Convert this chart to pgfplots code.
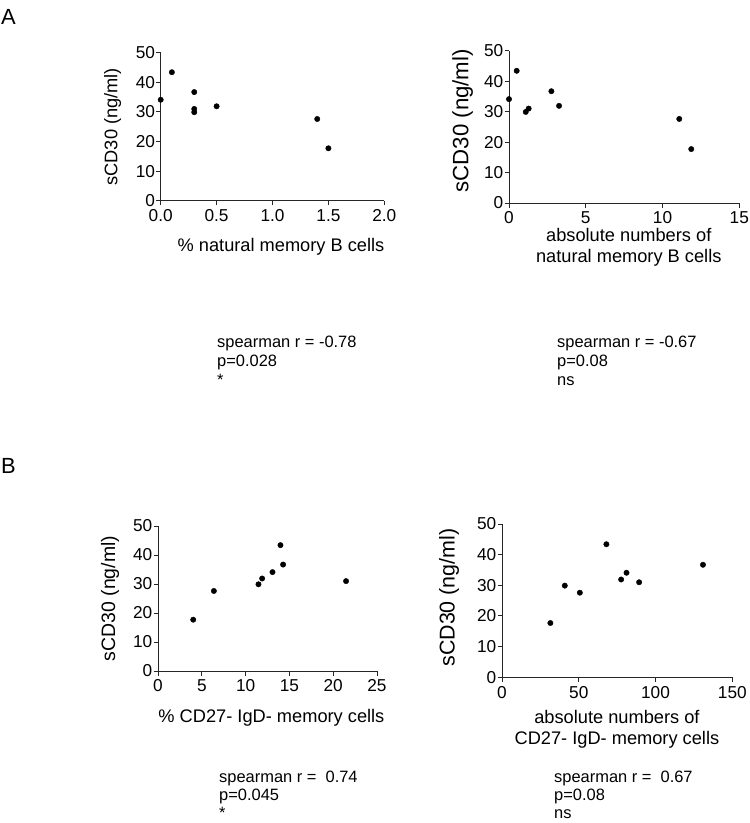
\documentclass[border=0pt]{standalone}
\usepackage{pgfplots}
\pgfplotsset{compat=1.18}
\usepackage{fontspec}
\setmainfont{Liberation Sans}
\newcommand{\fs}[1]{\fontsize{#1}{#1}\selectfont}
\pgfplotsset{
  panel/.style={
    scale only axis,
    anchor=south west,
    axis lines=left,
    axis line style={-, black!85, line width=1bp},
    tick style={black!85, line width=1bp},
    tick align=outside,
    major tick length=4.5bp,
    ymin=0, ymax=50, ytick={0,10,...,50},
    ticklabel style={font=\fs{17.3}},
    /pgf/number format/assume math mode=true,
    yticklabel style={inner xsep=1bp},
    xticklabel style={inner ysep=4bp},
    clip=false,
  },
  dots/.style={only marks, mark=*, mark size=2.7bp, black},
}
\begin{document}
\begin{tikzpicture}[x=1bp,y=1bp]
\path[use as bounding box] (0bp,0bp) rectangle (750bp,-823bp);

% ---------- A1 ----------
\begin{axis}[panel, at={(160.7bp,-200.7bp)}, width=223.6bp, height=148bp,
  xmin=0, xmax=2, xtick={0,0.5,1,1.5,2},
  xticklabel style={/pgf/number format/.cd, fixed, fixed zerofill, precision=1},
  ylabel={sCD30 (ng/ml)},
  ylabel style={font=\fs{18.3}, at={(axis description cs:-0.215,0.5)}, anchor=center},
  xlabel={\% natural memory B cells},
  xlabel style={font=\fs{18.3}, at={(axis description cs:0.538,-0.345)}, anchor=base},
]
\addplot[dots] coordinates {(0,34.1) (0.1,43.4) (0.3,36.7) (0.3,31.0) (0.3,29.9) (0.5,31.9) (1.4,27.6) (1.5,17.7)};
\end{axis}

% ---------- A2 ----------
\begin{axis}[panel, at={(509bp,-203bp)}, width=230.3bp, height=152.3bp,
  xmin=0, xmax=15, xtick={0,5,10,15},
  ylabel={sCD30 (ng/ml)},
  ylabel style={font=\fs{22.3}, at={(axis description cs:-0.201,0.54)}, anchor=center},
  xlabel={absolute numbers of\\natural memory B cells},
  xlabel style={font=\fontsize{18.3}{21.7}\selectfont, align=center, at={(axis description cs:0.52,-0.162)}, anchor=north, inner sep=0pt},
]
\addplot[dots] coordinates {(0,34.1) (0.5,43.4) (1.09,29.9) (1.28,31.0) (2.76,36.7) (3.26,31.9) (11.09,27.6) (11.87,17.7)};
\end{axis}

% ---------- B1 ----------
\begin{axis}[panel, at={(158bp,-671bp)}, width=219bp, height=145bp,
  xmin=0, xmax=25, xtick={0,5,...,25},
  ylabel={sCD30 (ng/ml)},
  ylabel style={font=\fs{19.5}, at={(axis description cs:-0.219,0.5)}, anchor=center},
  xlabel={\% CD27- IgD- memory cells},
  xlabel style={font=\fs{18.3}, at={(axis description cs:0.518,-0.357)}, anchor=base},
]
\addplot[dots] coordinates {(4.02,17.7) (6.38,27.6) (11.47,29.9) (11.89,31.9) (13.07,34.1) (13.98,43.4) (14.28,36.7) (21.47,31.0)};
\end{axis}

% ---------- B2 ----------
\begin{axis}[panel, at={(502bp,-677.3bp)}, width=230.3bp, height=153.3bp,
  xmin=0, xmax=150, xtick={0,50,100,150},
  ylabel={sCD30 (ng/ml)},
  ylabel style={font=\fs{21.5}, at={(axis description cs:-0.230,0.52)}, anchor=center},
  xlabel={absolute numbers of\\CD27- IgD- memory cells},
  xlabel style={font=\fontsize{18.3}{21.7}\selectfont, align=center, at={(axis description cs:0.499,-0.213)}, anchor=north, inner sep=0pt},
]
\addplot[dots] coordinates {(31.5,17.7) (40.9,29.9) (50.7,27.6) (68.0,43.4) (77.6,31.9) (81.1,34.1) (89.3,31.0) (130.9,36.7)};
\end{axis}

% ---------- panel letters ----------
\node[anchor=base west, inner sep=0pt, font=\fs{22}] at (1bp,-24bp) {A};
\node[anchor=base west, inner sep=0pt, font=\fs{22}] at (1bp,-473bp) {B};

% ---------- statistics ----------
\begin{scope}[every node/.style={anchor=base west, inner sep=0pt, font=\fs{16.5}}]
\node at (217bp,-347bp) {spearman r = -0.78};
\node at (217bp,-366bp) {p=0.028};
\node at (217bp,-385bp) {*};
\node at (557bp,-347bp) {spearman r = -0.67};
\node at (557bp,-366bp) {p=0.08};
\node at (557bp,-385bp) {ns};
\node at (219bp,-782bp) {spearman r =\ \ 0.74};
\node at (219bp,-800bp) {p=0.045};
\node at (219bp,-818bp) {*};
\node at (554bp,-782bp) {spearman r =\ \ 0.67};
\node at (554bp,-800bp) {p=0.08};
\node at (554bp,-818bp) {ns};
\end{scope}
\end{tikzpicture}
\end{document}
